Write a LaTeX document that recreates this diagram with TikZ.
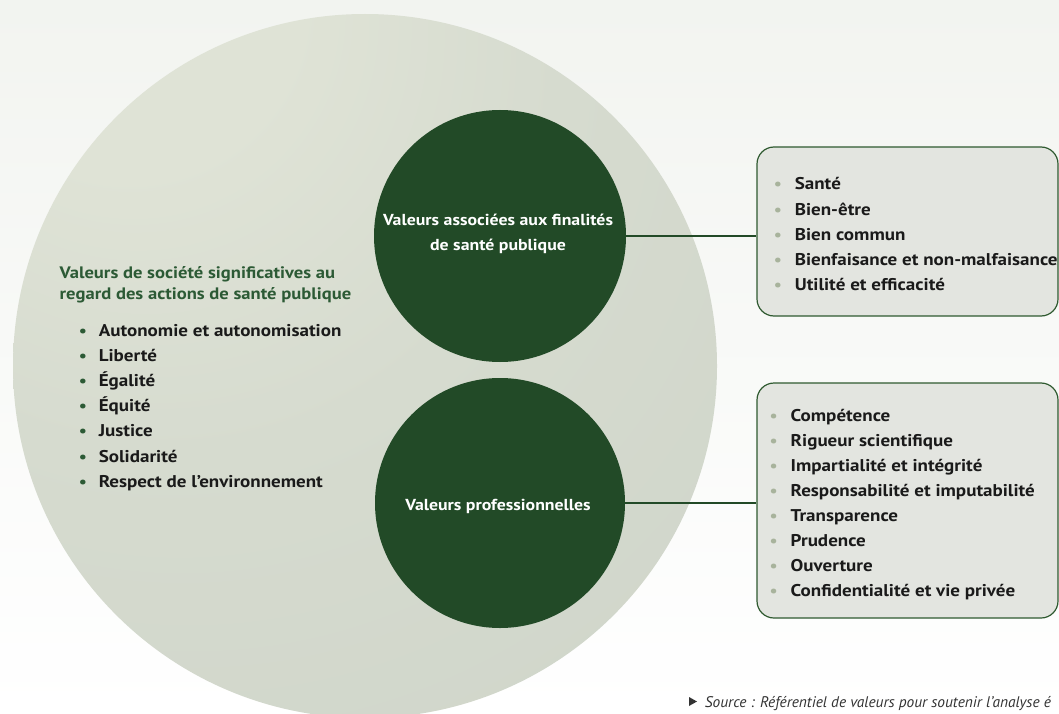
\documentclass[tikz,border=0pt]{standalone}
\usepackage{fontspec}
\setmainfont{PT Sans}[FakeStretch=1.12]
\newfontfamily\srcfont{PT Sans}
\definecolor{bgtop}{HTML}{F2F4F0}
\definecolor{bigin}{HTML}{DFE3D6}
\definecolor{bigmid}{HTML}{D6DBCF}
\definecolor{bigout}{HTML}{C7CEC3}
\definecolor{dkgreen}{HTML}{224A27}
\definecolor{headgreen}{HTML}{2C5A35}
\definecolor{boxfill}{HTML}{E3E5E0}
\definecolor{boxline}{HTML}{2F5A30}
\definecolor{lbullet}{HTML}{A8B39C}
\definecolor{txt}{HTML}{1A1A1A}
\definecolor{srcgray}{HTML}{333333}
\pgfdeclareradialshading{bigglow}{\pgfpoint{-19bp}{29bp}}{color(0bp)=(bigin); color(12bp)=(bigin); color(28bp)=(bigmid); color(85bp)=(bigout); color(110bp)=(bigout)}
\tikzset{
  bigdisc/.style={circle, minimum size=704pt, inner sep=0pt, shading=bigglow},
  valdisc/.style={circle, minimum size=252pt, inner sep=0pt, fill=dkgreen},
  valbox/.style={draw=boxline, line width=1.2pt, fill=boxfill, rounded corners=17pt, inner sep=0pt},
  conn/.style={draw=dkgreen, line width=1.5pt},
  itemtxt/.style={anchor=base west, inner sep=0pt, font=\fontsize{17}{20}\selectfont\bfseries, text=txt},
  headtxt/.style={anchor=base west, inner sep=0pt, font=\fontsize{16.6}{20}\selectfont\bfseries, text=headgreen},
  disctxt/.style={anchor=base, inner sep=0pt, font=\fontsize{15.9}{19}\selectfont\bfseries, text=white},
  dbullet/.style={anchor=base, inner sep=0pt, font=\fontsize{16}{18}\selectfont\bfseries, text=headgreen},
  lbul/.style={anchor=base, inner sep=0pt, font=\fontsize{16}{18}\selectfont\bfseries, text=lbullet},
  srctxt/.style={anchor=base west, inner sep=0pt, font=\srcfont\fontsize{15.4}{18}\selectfont\itshape, text=srcgray}
}
\begin{document}
\begin{tikzpicture}[x=1pt, y=-1pt]
\useasboundingbox (0,0) rectangle (1059,714);
\shade[top color=bgtop, bottom color=white] (0,0) rectangle (1059,714);
\node[bigdisc] (big) at (365,366) {};
\node[valdisc] (c1) at (500,236) {};
\node[valdisc, minimum size=250pt] (c2) at (500,503) {};
\node[valbox, minimum width=301pt, minimum height=169pt] (box1) at (907.5,231.5) {};
\node[valbox, minimum width=301pt, minimum height=235pt] (box2) at (907.5,500.5) {};
\draw[conn] (c1.east) -- (c1.east -| box1.west);
\draw[conn] (c2.east) -- (c2.east -| box2.west);
% disc texts
\node[disctxt] (c1a) at (498,225) {Valeurs associées aux finalités};
\node[disctxt] (c1b) at (498,250) {de santé publique};
\node[disctxt] (c2a) at (498,510) {Valeurs professionnelles};
% left heading and list
\node[headtxt] (h1) at (59.5,278.5) {Valeurs de société significatives au};
\node[headtxt] (h2) at (59.5,299.5) {regard des actions de santé publique};
\foreach \t [count=\i] in {Autonomie et autonomisation, Liberté, Égalité, Équité, Justice, Solidarité, Respect de l’environnement}{
  \node[dbullet] (lb\i) at (83,{331+(\i-1)*25.1+5.5}) {•};
  \node[itemtxt] (li\i) at (98.6,{331+(\i-1)*25.1+5.5}) {\t};
}
% box 1 list
\foreach \t [count=\i] in {Santé, Bien-être, Bien commun, Bienfaisance et non-malfaisance, Utilité et efficacité}{
  \node[lbul] (ab\i) at (778,{184.4+(\i-1)*25.15+5.5}) {•};
  \node[itemtxt] (ai\i) at (794.6,{184.4+(\i-1)*25.15+5.5}) {\t};
}
% box 2 list
\foreach \t [count=\i] in {Compétence, Rigueur scientifique, Impartialité et intégrité, Responsabilité et imputabilité, Transparence, Prudence, Ouverture, Confidentialité et vie privée}{
  \node[lbul] (bb\i) at (773.6,{415.8+(\i-1)*25.05+5.5}) {•};
  \node[itemtxt] (bi\i) at (790.5,{415.8+(\i-1)*25.05+5.5}) {\t};
}
% source
\fill[srcgray] (689,697) -- (697,701.5) -- (689,706) -- cycle;
\node[srctxt] (src) at (704.7,707) {Source : Référentiel de valeurs pour soutenir l’analyse é};
\end{tikzpicture}
\end{document}
